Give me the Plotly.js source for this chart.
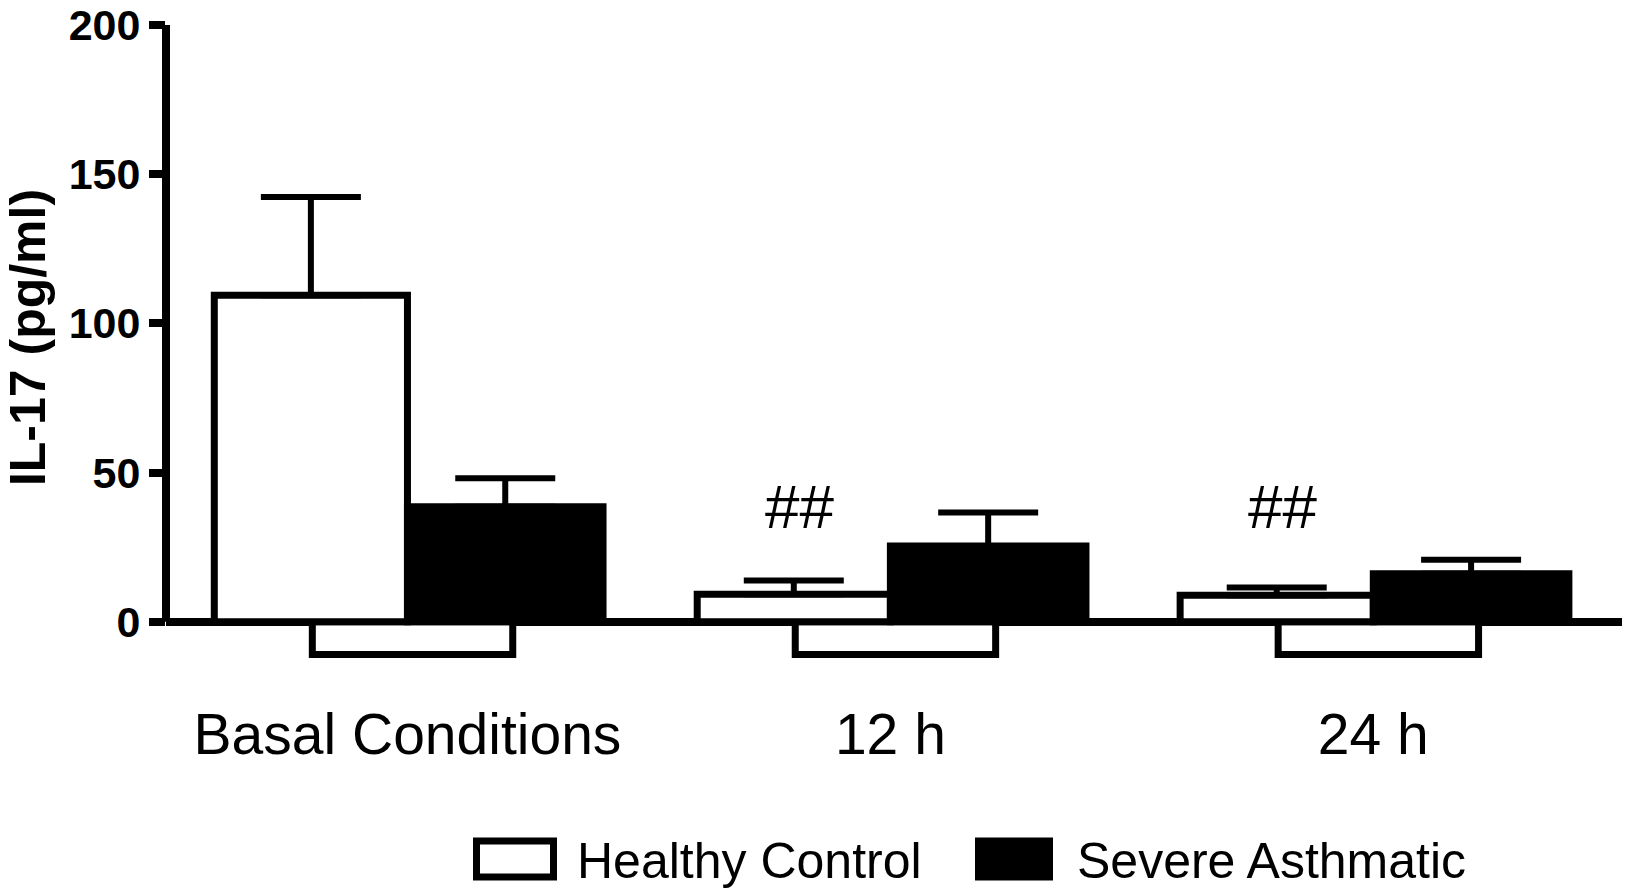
<!DOCTYPE html>
<html>
<head>
<meta charset="utf-8">
<script src="https://cdn.plot.ly/plotly-3.0.1.min.js"></script>
<style>
  html, body { margin: 0; padding: 0; background: #ffffff; }
  #chart { width: 1625px; height: 891px; }
</style>
</head>
<body>
<div id="chart"></div>
<script>
// ---- data ----
const categories = ['Basal Conditions', '12 h', '24 h'];
const healthyControl = [109.4, 9.2, 8.9];
const healthyControlErr = [32.9, 4.6, 2.6];
const severeAsthmatic = [38.5, 25.4, 16.1];
const severeAsthmaticErr = [9.6, 11.2, 4.7];
const baselineShadow = [-11, -11, -11];
const yTickVals = [0, 50, 100, 150, 200];
const yTickText = ['0', '50', '100', '150', '200'];
const markerLabels = ['', '##', '##'];
const markerLevel = 38.5;
const seriesNames = ['Healthy Control', 'Severe Asthmatic'];
const yTitle = 'IL-17 (pg/ml)';

// ---- layout geometry ----
const W = 1625, H = 891;
const yRange = [-12.5, 203];
const zeroPx = 622, topPx = 25;
const pxPerUnit = (zeroPx - topPx) / 200;
const mL = 166, mR = 3;
const mT = topPx - (yRange[1] - 200) * pxPerUnit;
const mB = H - (zeroPx - yRange[0] * pxPerUnit);
const plotW = W - mL - mR, plotH = H - mT - mB;
const xRange = [-0.5, 2.515];
const FONT = '"Liberation Sans", Arial, Helvetica, sans-serif';
const px2paperX = px => (px - mL) / plotW;
const px2paperY = py => (H - mB - py) / plotH;
const y2paper = v => (v - yRange[0]) / (yRange[1] - yRange[0]);

const zeros = categories.map(() => 0);

const traces = [
  {
    type: 'bar', x: categories, y: baselineShadow,
    width: 0.415, offset: -0.197,
    marker: { color: '#ffffff', line: { color: '#000000', width: 7 } },
    showlegend: false, hoverinfo: 'skip'
  },
  {
    type: 'bar', name: seriesNames[0], x: categories, y: healthyControl,
    width: 0.4, offset: -0.4,
    marker: { color: '#ffffff', line: { color: '#000000', width: 7 } },
    error_y: { type: 'data', symmetric: false, array: healthyControlErr, arrayminus: zeros,
               color: '#000000', thickness: 6, width: 50 },
    showlegend: false
  },
  {
    type: 'bar', name: seriesNames[1], x: categories, y: severeAsthmatic,
    width: 0.405, offset: 0,
    marker: { color: '#000000', line: { color: '#000000', width: 7 } },
    error_y: { type: 'data', symmetric: false, array: severeAsthmaticErr, arrayminus: zeros,
               color: '#000000', thickness: 6, width: 50 },
    showlegend: false
  }
];

const annotations = [];
markerLabels.forEach((t, i) => {
  if (!t) return;
  annotations.push({
    x: i - 0.2, y: markerLevel, xref: 'x', yref: 'y', xshift: 6, text: t, showarrow: false,
    font: { family: FONT, size: 62, color: '#000000' }, xanchor: 'center', yanchor: 'middle'
  });
});

// manual legend (large swatches like the reference)
const legendY0 = 841.5, legendY1 = 877.5;
const shapes = [
  // y axis line from 0 to 200 only
  { type: 'line', xref: 'paper', yref: 'paper', x0: 0, x1: 0,
    y0: y2paper(0), y1: y2paper(200), line: { color: '#000000', width: 8 } },
  { type: 'rect', xref: 'paper', yref: 'paper',
    x0: px2paperX(476.5), x1: px2paperX(553.5), y0: px2paperY(legendY1), y1: px2paperY(legendY0),
    fillcolor: '#ffffff', line: { color: '#000000', width: 7 } },
  { type: 'rect', xref: 'paper', yref: 'paper',
    x0: px2paperX(978.5), x1: px2paperX(1049.5), y0: px2paperY(legendY1), y1: px2paperY(legendY0),
    fillcolor: '#000000', line: { color: '#000000', width: 7 } }
];
annotations.push({
  xref: 'paper', yref: 'paper', x: px2paperX(575), y: px2paperY(861),
  xanchor: 'left', yanchor: 'middle', showarrow: false, text: seriesNames[0],
  font: { family: FONT, size: 50, color: '#000000' }
});
annotations.push({
  xref: 'paper', yref: 'paper', x: px2paperX(1075), y: px2paperY(861),
  xanchor: 'left', yanchor: 'middle', showarrow: false, text: seriesNames[1],
  font: { family: FONT, size: 50, color: '#000000' }
});

const layout = {
  width: W, height: H,
  margin: { l: mL, r: mR, t: mT, b: mB, pad: 0 },
  paper_bgcolor: '#ffffff', plot_bgcolor: '#ffffff',
  barmode: 'overlay',
  showlegend: false,
  xaxis: {
    type: 'category', range: xRange, showgrid: false, zeroline: false, showline: false,
    ticks: 'outside', ticklen: 26, tickcolor: 'rgba(0,0,0,0)',
    tickfont: { family: FONT, size: 57, color: '#000000' },
    fixedrange: true, automargin: false
  },
  yaxis: {
    range: yRange, tickmode: 'array', tickvals: yTickVals, ticktext: yTickText,
    ticks: 'outside', ticklen: 16, tickwidth: 8, tickcolor: '#000000',
    ticklabeloverflow: 'allow',
    tickfont: { family: FONT, size: 43, color: '#000000', weight: 'bold' },
    showgrid: false, showline: false,
    zeroline: true, zerolinecolor: '#000000', zerolinewidth: 8,
    title: { text: yTitle, font: { family: FONT, size: 50, color: '#000000', weight: 'bold' }, standoff: 16 },
    fixedrange: true, automargin: false
  },
  shapes: shapes,
  annotations: annotations
};

Plotly.newPlot('chart', traces, layout, { displayModeBar: false, staticPlot: true });
</script>
</body>
</html>
